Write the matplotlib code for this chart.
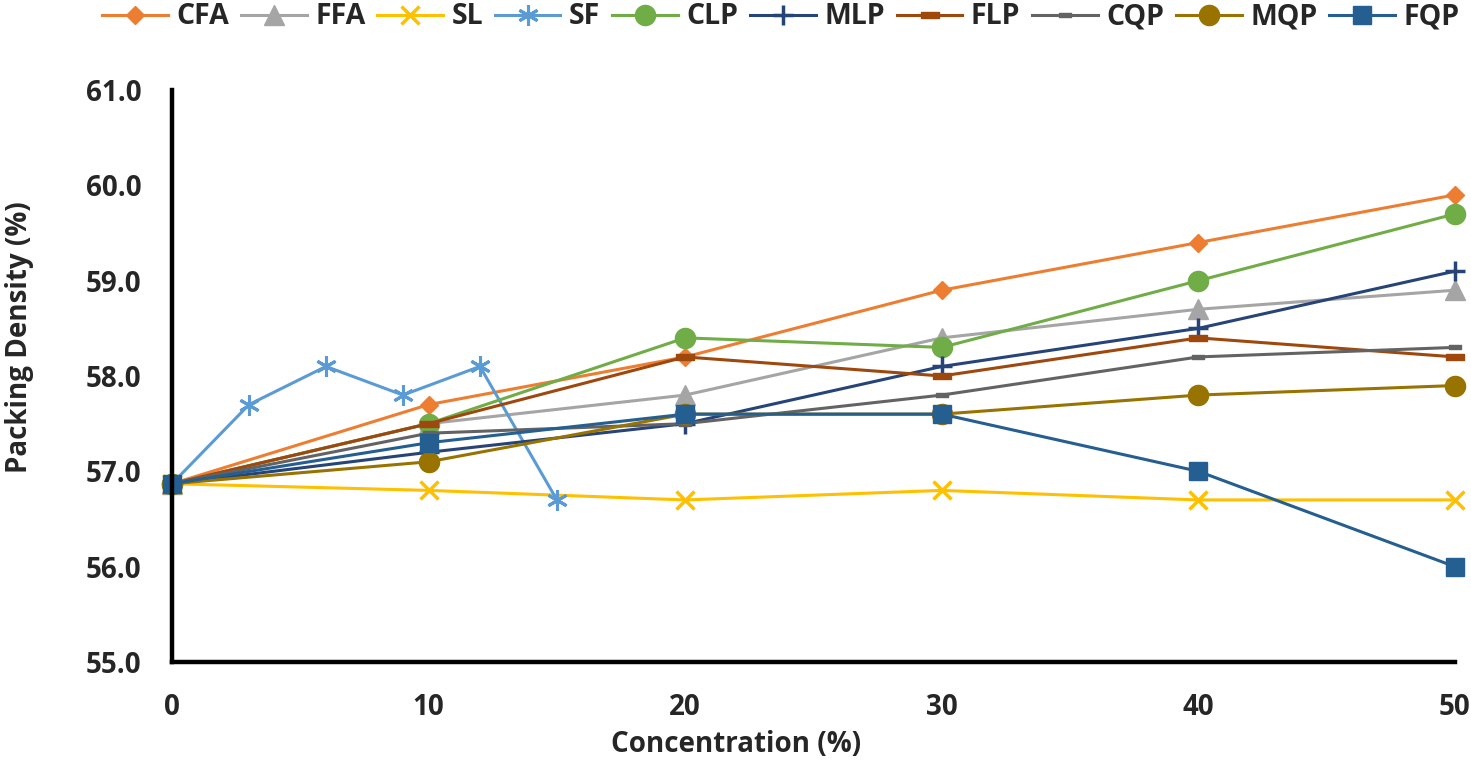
import matplotlib
matplotlib.use("Agg")
import matplotlib.pyplot as plt
from matplotlib.path import Path
import numpy as np

plt.rcParams['font.family'] = ['Open Sans', 'DejaVu Sans']
plt.rcParams['font.weight'] = 'bold'

conc = [0, 10, 20, 30, 40, 50]
conc_sf = [0, 3, 6, 9, 12, 15]

CFA = [56.87, 57.7, 58.2, 58.9, 59.4, 59.9]
FFA = [56.87, 57.5, 57.8, 58.4, 58.7, 58.9]
SL = [56.87, 56.8, 56.7, 56.8, 56.7, 56.7]
SF = [56.87, 57.7, 58.1, 57.8, 58.1, 56.7]
CLP = [56.87, 57.5, 58.4, 58.3, 59.0, 59.7]
MLP = [56.87, 57.2, 57.5, 58.1, 58.5, 59.1]
FLP = [56.87, 57.5, 58.2, 58.0, 58.4, 58.2]
CQP = [56.87, 57.4, 57.5, 57.8, 58.2, 58.3]
MQP = [56.87, 57.1, 57.6, 57.6, 57.8, 57.9]
FQP = [56.87, 57.3, 57.6, 57.6, 57.0, 56.0]

y_ticks = [55.0, 56.0, 57.0, 58.0, 59.0, 60.0, 61.0]
x_ticks = [0, 10, 20, 30, 40, 50]

dash = Path([(-1, -0.32), (1, -0.32), (1, 0.32), (-1, 0.32), (-1, -0.32)],
            [Path.MOVETO, Path.LINETO, Path.LINETO, Path.LINETO, Path.CLOSEPOLY])

series = [
    ("CFA", conc, CFA, "#ED7D31", dict(marker="D", ms=9.5)),
    ("FFA", conc, FFA, "#A5A5A5", dict(marker="^", ms=14)),
    ("SL", conc, SL, "#FFC000", dict(marker="x", ms=13, mew=2.5)),
    ("SF", conc_sf, SF, "#5B9BD5", dict(marker=(6, 2, 0), ms=15, mew=2.2)),
    ("CLP", conc, CLP, "#70AD47", dict(marker="o", ms=14.5)),
    ("MLP", conc, MLP, "#264478", dict(marker="+", ms=14, mew=2.5)),
    ("FLP", conc, FLP, "#9E480E", dict(marker=dash, ms=13)),
    ("CQP", conc, CQP, "#636363", dict(marker=dash, ms=8)),
    ("MQP", conc, MQP, "#997300", dict(marker="o", ms=14.5)),
    ("FQP", conc, FQP, "#255E91", dict(marker="s", ms=13.5)),
]

fig = plt.figure(figsize=(14.71, 7.75), dpi=100)
L, R, T, B = 172, 1455, 90, 662
ax = fig.add_axes([L/1471, (775-B)/775, (R-L)/1471, (B-T)/775])

for name, xs, ys, col, mk in series:
    ax.plot(xs, ys, color=col, lw=2.2, label=name, markerfacecolor=col,
            markeredgecolor=col, clip_on=False, **mk)

ax.set_xlim(0, 50)
ax.set_ylim(55, 61)
ax.set_xticks(x_ticks)
ax.set_xticklabels([str(v) for v in x_ticks])
ax.set_yticks(y_ticks)
ax.set_yticklabels([f"{v:.1f}" for v in y_ticks])
ax.tick_params(length=0, labelsize=20, pad=22)
for lab in ax.get_xticklabels() + ax.get_yticklabels():
    lab.set_fontweight('bold')
    lab.set_color('#262626')

for s in ['top', 'right']:
    ax.spines[s].set_visible(False)
for s in ['left', 'bottom']:
    ax.spines[s].set_linewidth(3.2)
    ax.spines[s].set_color('black')

ax.set_xlabel("Concentration (%)", fontsize=20, fontweight='bold', color='#262626')
ax.set_ylabel("Packing Density (%)", fontsize=20, fontweight='bold', color='#262626')
# label centres in axes coordinates
ax.xaxis.set_label_coords((736 - L)/(R - L), -(745 - B)/(B - T))
ax.xaxis.label.set_va('center')
ax.yaxis.set_label_coords((20 - L)/(R - L), (B - 337)/(B - T))
ax.yaxis.label.set_va('center')

leg = fig.legend(loc='center', bbox_to_anchor=(781/1471, 1 - 17/775), ncol=10,
                 frameon=False, fontsize=20.5, handlelength=2.3, handletextpad=0.3,
                 columnspacing=0.42, borderpad=0, borderaxespad=0)
for t in leg.get_texts():
    t.set_fontweight('bold')
    t.set_color('#262626')

fig.savefig("out.png", dpi=100)
